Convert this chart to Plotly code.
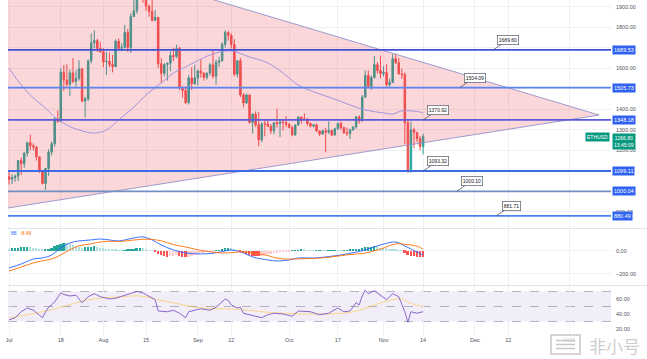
import plotly.graph_objects as go
import pandas as pd

# ---------------- data ----------------
dates = pd.date_range("2022-07-01", periods=137, freq="D")

opens = [1071,1059,1067,1074,1150,1134,1186,1237,1222,1216,
         1168,1097,1038,1111,1191,1232,1353,1340,1581,1543,
         1522,1578,1536,1550,1597,1440,1451,1636,1724,1735,
         1696,1680,1632,1634,1618,1608,1732,1697,1702,1775,
         1700,1852,1880,1958,1980,1936,1903,1877,1834,1848,
         1622,1575,1618,1625,1662,1658,1696,1507,1492,1433,
         1553,1524,1553,1587,1577,1556,1577,1617,1561,1630,
         1636,1717,1775,1760,1716,1571,1637,1470,1431,1470,
         1336,1376,1324,1251,1329,1328,1317,1295,1335,1330,
         1337,1336,1327,1311,1276,1323,1362,1352,1352,1331,
         1318,1324,1294,1280,1295,1288,1297,1274,1305,1331,
         1311,1285,1282,1300,1314,1363,1344,1460,1565,1512,
         1555,1618,1589,1574,1580,1520,1531,1646,1627,1573,
         1569,1335,1100,1300,1287,1256,1219]
highs = [1101,1083,1082,1152,1165,1192,1242,1276,1234,1220,
         1170,1098,1113,1205,1243,1362,1394,1600,1615,1620,
         1594,1650,1590,1639,1602,1461,1643,1769,1785,1744,
         1727,1698,1680,1677,1665,1741,1745,1722,1812,1792,
         1868,1942,1960,2012,2030,2020,1910,1960,1884,1850,
         1650,1625,1628,1682,1700,1715,1705,1512,1511,1567,
         1605,1617,1595,1645,1580,1578,1625,1688,1642,1656,
         1726,1786,1783,1770,1742,1640,1650,1480,1477,1472,
         1380,1390,1386,1336,1345,1352,1327,1336,1403,1348,
         1350,1367,1333,1320,1326,1365,1365,1380,1358,1336,
         1328,1331,1296,1300,1310,1340,1300,1310,1335,1340,
         1313,1310,1305,1318,1368,1370,1470,1590,1590,1565,
         1660,1630,1662,1610,1620,1550,1668,1670,1650,1598,
         1580,1346,1340,1310,1290,1270,1280]
lows = [1033,1035,1046,1051,1080,1115,1170,1200,1200,1150,
        1090,1034,1006,1075,1175,1218,1335,1337,1490,1507,
        1466,1527,1510,1540,1435,1361,1440,1624,1697,1680,
        1675,1605,1567,1605,1580,1606,1697,1683,1697,1680,
        1675,1850,1866,1940,1920,1880,1852,1827,1830,1601,
        1530,1560,1540,1585,1635,1650,1495,1457,1425,1423,
        1495,1520,1515,1555,1540,1545,1563,1550,1520,1607,
        1634,1702,1735,1696,1561,1555,1460,1410,1427,1330,
        1282,1313,1220,1240,1268,1313,1280,1278,1310,1265,
        1298,1313,1307,1268,1270,1320,1330,1345,1320,1311,
        1311,1290,1270,1275,1190,1280,1270,1273,1300,1300,
        1280,1270,1255,1295,1305,1330,1340,1455,1508,1495,
        1550,1574,1550,1560,1510,1510,1528,1622,1568,1548,
        1230,1090,1090,1210,1240,1200,1180]
closes = [1059,1067,1074,1150,1134,1186,1237,1222,1216,1168,
          1097,1038,1111,1191,1232,1353,1340,1581,1543,1522,
          1578,1536,1550,1597,1440,1451,1636,1724,1735,1696,
          1680,1632,1634,1618,1608,1732,1697,1702,1775,1700,
          1852,1880,1958,1980,1936,1903,1877,1834,1848,1622,
          1575,1618,1625,1662,1658,1696,1507,1492,1433,1553,
          1524,1553,1587,1577,1556,1577,1617,1561,1630,1636,
          1717,1775,1760,1716,1571,1637,1470,1431,1470,1336,
          1376,1324,1251,1329,1328,1317,1295,1335,1330,1337,
          1336,1327,1311,1276,1323,1362,1352,1352,1331,1318,
          1324,1294,1280,1295,1288,1297,1274,1305,1331,1311,
          1285,1282,1300,1314,1363,1344,1460,1565,1512,1555,
          1618,1589,1574,1580,1520,1531,1646,1627,1573,1569,
          1335,1100,1300,1287,1256,1219,1266.8]

ma_day = [0,4,8,12,15,19,23,28,32,36,41,45,50,54,58,63,68,73,79,85,90,95,101,106,112,117,123,126,129,135,136]
ma_val = [1601,1518,1455,1406,1362,1323,1299,1284,1299,1348,1411,1470,1528,1577,1606,1645,1675,1685,1655,1626,1577,1518,1480,1455,1421,1397,1382,1377,1392,1387,1382]

# triangle pattern vertices
tri_x = ["2022-06-30", "2023-01-10 19:00", "2022-06-30", "2022-06-30"]
tri_y = [2237, 1372, 917, 2237]

# horizontal levels
level_vals = [1689.53, 1505.73, 1348.18, 1099.11, 1000.04, 880.49]
level_colors = ["#3f4fd6", "#5c86ee", "#5d5ad8", "#3d6ae6", "#7090c4", "#4a80f0"]

# callouts
callout_text = ["1689.60", "1504.09", "1370.92", "1093.32", "1000.10", "881.71"]
callout_dates = ["2022-12-07", "2022-11-26", "2022-11-14", "2022-11-14", "2022-11-25", "2022-12-08"]

# MACD
macd_day = [0,4,8,11,14,17,20,23,27,30,33,36,41,44,47,50,54,58,63,67,71,73,77,80,85,88,92,95,100,104,111,117,122,127,130,134,136]
macd_val = [-148,-113,-70,-61,-35,26,70,87,96,104,96,87,113,122,96,52,9,-17,-26,-20,0,9,-17,-52,-78,-87,-78,-61,-61,-52,-26,9,52,78,43,-9,-35]
signal_val = [-174,-140,-104,-85,-70,-35,10,45,62,78,85,82,95,102,100,88,55,35,5,-10,-18,-14,-8,-15,-40,-62,-72,-68,-65,-58,-34,-18,16,62,58,42,15]
hist = [20,22,25,28,32,35,38,36,30,22,
        15,10,12,20,30,42,55,62,70,68,
        60,52,45,38,30,32,35,38,40,36,
        30,24,18,14,12,10,8,6,8,10,
        14,20,24,26,22,15,8,2,-5,-25,
        -38,-46,-52,-48,-40,-38,-45,-50,-55,-50,
        -42,-35,-28,-22,-16,-12,-8,-4,2,8,
        15,22,26,22,12,2,-10,-20,-28,-35,
        -40,-44,-46,-42,-36,-30,-25,-20,-16,-12,
        -9,-6,-2,2,5,8,10,9,7,5,
        4,5,6,4,2,3,5,7,6,4,
        5,7,9,12,15,20,26,32,36,38,
        40,36,30,26,22,18,15,12,8,3,
        -15,-35,-42,-48,-52,-54,-55]

# RSI
rsi_day = [0,2,4,6,8,10,11,12,13,15,17,18,20,22,24,26,28,30,33,35,
           38,40,42,44,46,48,49,52,54,56,58,59,63,66,68,70,71,72,73,75,
           76,77,79,81,83,85,87,90,93,95,99,102,105,108,110,112,114,115,116,117,
           118,120,122,124,126,128,129,130,131,132,134,136]
rsi_val = [32,35,43,48,45,39,35,43,49,56,68,66,64,65,55,63,67,63,60,61,
           65,68,70,68,63,59,44,43,45,41,35,43,47,45,49,56,60,58,52,48,
           49,41,39,36,35,39,41,40,37,44,43,39,41,48,43,44,55,52,64,72,
           67,71,65,59,67,63,53,43,29,43,41,43]
rsima_day = [0,10,17,25,30,37,43,50,55,63,70,76,83,90,100,110,115,120,126,129,132,136]
rsima_val = [35,42,49,58,61,63,64,58,54,48,47,46,43,41,40,41,45,52,59,60,54,50]

x_tick_vals = ["2022-07-01","2022-07-18","2022-08-01","2022-08-15","2022-09-01","2022-09-12",
               "2022-10-01","2022-10-17","2022-11-01","2022-11-14","2022-12-01","2022-12-12","2023-01-01"]
x_tick_text = ["Jul","18","Aug","15","Sep","12","Oct","17","Nov","14","Dec","12","2023"]
price_ticks = [800,900,1000,1100,1200,1300,1400,1500,1600,1700,1800,1900]
price_tick_text = ["", "900.00", "", "", "1200.00", "1300.00", "1400.00", "", "1600.00", "", "1800.00", "1900.00"]
macd_ticks = [-200, 0, 200]
rsi_ticks = [20, 40, 60]

# ---------------- figure ----------------
W, H = 647, 359
ML, MR, MT, MB = 8, 36, 0, 24
PW, PH = W - ML - MR, H - MT - MB
def px(x):
    return (x - ML) / PW
def py(y):
    return 1 - (y - MT) / PH

FONT = "Liberation Sans"
TXT = "#50535e"
GRID = "#eef0f5"

fig = go.Figure()
fig.add_trace(go.Scatter(x=tri_x, y=tri_y, mode="lines", fill="toself",
                         fillcolor="rgba(242,54,69,0.2)",
                         line=dict(color="rgba(140,140,200,0.85)", width=1),
                         xaxis="x", yaxis="y", hoverinfo="skip"))
fig.add_trace(go.Candlestick(x=dates, open=opens, high=highs, low=lows, close=closes,
                             increasing=dict(line=dict(color="#26a69a", width=1), fillcolor="#26a69a"),
                             decreasing=dict(line=dict(color="#ef5350", width=1), fillcolor="#ef5350"),
                             whiskerwidth=0, xaxis="x", yaxis="y"))
fig.add_trace(go.Scatter(x=[dates[d] for d in ma_day], y=ma_val, mode="lines",
                         line=dict(color="#a094dc", width=1, shape="spline"),
                         xaxis="x", yaxis="y"))

# MACD
hcolors = []
for i, h in enumerate(hist):
    prev = hist[i - 1] if i > 0 else h + 1
    if h >= 0:
        hcolors.append("#26a69a" if h >= prev else "#b2dfdb")
    else:
        hcolors.append("#ff5252" if h <= prev else "#ffcdd2")
fig.add_trace(go.Bar(x=dates, y=hist, marker=dict(color=hcolors, line=dict(width=0)),
                     width=0.6 * 86400000, xaxis="x2", yaxis="y2"))
fig.add_trace(go.Scatter(x=[dates[d] for d in macd_day], y=macd_val, mode="lines",
                         line=dict(color="#2962ff", width=0.9, shape="spline"), xaxis="x2", yaxis="y2"))
fig.add_trace(go.Scatter(x=[dates[d] for d in macd_day], y=signal_val, mode="lines",
                         line=dict(color="#ff6d00", width=0.9, shape="spline"), xaxis="x2", yaxis="y2"))

# RSI
fig.add_trace(go.Scatter(x=[dates[d] for d in rsima_day], y=rsima_val, mode="lines",
                         line=dict(color="rgba(255,196,60,0.6)", width=1, shape="spline"),
                         xaxis="x3", yaxis="y3"))
fig.add_trace(go.Scatter(x=[dates[d] for d in rsi_day], y=rsi_val, mode="lines",
                         line=dict(color="#7e57c2", width=0.9), xaxis="x3", yaxis="y3"))

xr = ["2022-06-30 16:00", "2023-01-14 17:00"]
xcommon = dict(type="date", range=xr, tickmode="array", tickvals=x_tick_vals, ticktext=x_tick_text,
               showgrid=True, gridcolor=GRID, gridwidth=1, zeroline=False, showline=False,
               ticks="", fixedrange=True, domain=[0, 1],
               tickfont=dict(family=FONT, size=5.5, color=TXT))
ycommon = dict(side="right", showgrid=True, gridcolor=GRID, zeroline=False, showline=False,
               ticks="", fixedrange=True, ticklabelstandoff=4,
               tickfont=dict(family=FONT, size=5.5, color=TXT))

shapes = []
for lv, lc in zip(level_vals, level_colors):
    shapes.append(dict(type="line", xref="paper", yref="y", x0=0, x1=1, y0=lv, y1=lv,
                       line=dict(color=lc, width=1.8)))
# RSI band
shapes.append(dict(type="rect", xref="paper", yref="y3", x0=0, x1=1, y0=30, y1=70,
                   fillcolor="rgba(126,87,194,0.1)", line=dict(width=0), layer="below"))
for lv in [70, 50, 30]:
    shapes.append(dict(type="line", xref="paper", yref="y3", x0=0, x1=1, y0=lv, y1=lv,
                       line=dict(color="rgba(120,123,134,0.55)", width=1, dash="dash"), layer="below"))
# pane separators
for sy in [228.5, 285.5]:
    shapes.append(dict(type="line", xref="paper", yref="paper", x0=0, x1=px(W), y0=py(sy), y1=py(sy),
                       line=dict(color="#e0e3eb", width=1)))
# watermark logo
shapes.append(dict(type="rect", xref="paper", yref="paper", x0=px(551), x1=px(580), y0=py(354), y1=py(335),
                   fillcolor="rgba(255,255,255,0.75)", line=dict(color="rgba(185,185,185,0.8)", width=1.5)))
for ly in [340.5, 344.5, 348.5]:
    shapes.append(dict(type="line", xref="paper", yref="paper", x0=px(556), x1=px(575), y0=py(ly), y1=py(ly),
                       line=dict(color="rgba(185,185,185,0.8)", width=1.5)))

ann = []
for lv in level_vals:
    ann.append(dict(x=1, xref="paper", y=lv, yref="y", xanchor="left", xshift=1, showarrow=False,
                    text=f"{lv:.2f}", font=dict(family=FONT, size=5.5, color="white"),
                    bgcolor="#2f62f0", borderpad=1))
for t, d, lv in zip(callout_text, callout_dates, level_vals):
    ann.append(dict(x=d, xref="x", y=lv, yref="y", text=t, showarrow=True, arrowhead=0,
                    arrowwidth=0.8, arrowcolor="#50535e", ax=15, ay=-10, standoff=0,
                    font=dict(family=FONT, size=5, color="#131722"), bgcolor="white",
                    bordercolor="#6a6d78", borderwidth=0.8, borderpad=1))
ann.append(dict(x=1, xref="paper", y=closes[-1], yref="y", xanchor="right", xshift=-1, showarrow=False,
                text="ETHUSD", font=dict(family=FONT, size=5, color="white"), bgcolor="#089981", borderpad=1))
ann.append(dict(x=1, xref="paper", y=closes[-1], yref="y", xanchor="left", yanchor="top", xshift=1, yshift=4,
                showarrow=False, text=f"{closes[-1]:.2f}<br>13:45:09",
                font=dict(family=FONT, size=5, color="white"), bgcolor="#089981", borderpad=1))
ann.append(dict(x=px(9), xref="paper", y=py(238), yref="paper", xanchor="left", showarrow=False,
                text="88", font=dict(family=FONT, size=5, color="#2962ff")))
ann.append(dict(x=px(18), xref="paper", y=py(238), yref="paper", xanchor="left", showarrow=False,
                text="-8.46", font=dict(family=FONT, size=5, color="#ff6d00")))
ann.append(dict(x=px(642), xref="paper", y=py(345), yref="paper", xanchor="right", yanchor="middle",
                showarrow=False,
                text="非小号", font=dict(family="Noto Sans CJK SC", size=17, color="rgba(170,170,170,0.6)")))

fig.update_layout(
    width=W, height=H, margin=dict(l=ML, r=MR, t=MT, b=MB, autoexpand=False),
    paper_bgcolor="white", plot_bgcolor="white", showlegend=False,
    bargap=0,
    xaxis=dict(xcommon, anchor="y", showticklabels=False, rangeslider=dict(visible=False)),
    xaxis2=dict(xcommon, anchor="y2", matches="x", showticklabels=False),
    xaxis3=dict(xcommon, anchor="y3", matches="x", showticklabels=True),
    yaxis=dict(ycommon, domain=[py(228), 1], range=[821, 1933], tickmode="array",
               tickvals=price_ticks, ticktext=price_tick_text, anchor="x"),
    yaxis2=dict(ycommon, domain=[py(285), py(229)], range=[-296, 191], tickmode="array",
                tickvals=macd_ticks, ticktext=[f"{v:.2f}".replace("-", "\u2212") for v in macd_ticks], anchor="x2"),
    yaxis3=dict(ycommon, domain=[0, py(286)], range=[12, 77.3], tickmode="array",
                tickvals=rsi_ticks, ticktext=[f"{v:.2f}" for v in rsi_ticks], anchor="x3", showgrid=False),
    shapes=shapes, annotations=ann,
)

fig.write_html("out.html", config={"displayModeBar": False},
               post_script="document.body.style.margin='0';document.body.style.padding='0';")
